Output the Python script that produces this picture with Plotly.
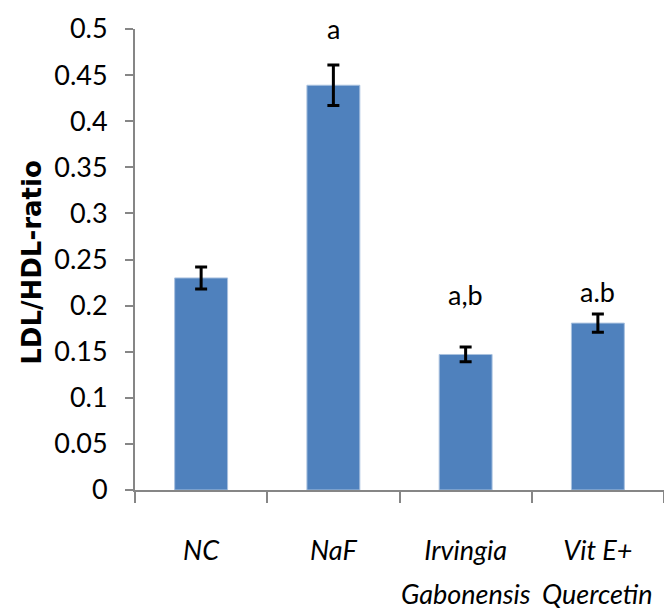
import plotly.graph_objects as go

categories = ["NC", "NaF", "Irvingia Gabonensis", "Vit E+ Quercetin"]
tick_line1 = ["NC", "NaF", "Irvingia", "Vit E+"]
tick_line2 = ["", "", "Gabonensis", "Quercetin"]
values = [0.230, 0.439, 0.147, 0.181]
errors = [0.012, 0.022, 0.008, 0.010]
sig_labels = ["", "a", "a,b", "a.b"]
label_shift = [0, 18, 34, 4]
y_title = "LDL/HDL-ratio"

FONT = "Lato, Carlito, Calibri, sans-serif"
FS = 27

fig = go.Figure()
fig.add_trace(go.Bar(
    x=categories, y=values,
    marker=dict(color="#4F81BD", line=dict(color="#A9C1DF", width=1)),
    error_y=dict(type="data", array=errors, visible=True,
                 color="black", thickness=3, width=6),
    width=0.4,
))

for c, v, e, lab, s in zip(categories, values, errors, sig_labels, label_shift):
    if lab:
        fig.add_annotation(x=c, y=v + e, text=lab, showarrow=False,
                           yanchor="bottom", yshift=s,
                           font=dict(family=FONT, size=FS, color="black"))

for c, t2 in zip(categories, tick_line2):
    if t2:
        fig.add_annotation(x=c, xref="x", y=0, yref="paper", text=t2, showarrow=False,
                           yanchor="middle", yshift=-103,
                           font=dict(family=FONT, size=FS, color="black", style="italic"))

# y-axis title (as rotated annotation to match its position)
fig.add_annotation(x=0, xref="paper", xshift=-103, xanchor="center",
                   y=0.493, yref="paper", yanchor="middle",
                   text="<b>" + y_title + "</b>", textangle=-90, showarrow=False,
                   font=dict(family="DejaVu Sans, sans-serif", size=26, color="black"))

fig.update_layout(
    width=664, height=615,
    margin=dict(l=135, r=0, t=29, b=125),
    plot_bgcolor="white", paper_bgcolor="white",
    showlegend=False,
    font=dict(family=FONT, color="black"),
)
fig.update_yaxes(
    range=[0, 0.5], dtick=0.05, tickformat="~g", automargin=False,
    showgrid=False, zeroline=False,
    showline=True, linecolor="#868686", linewidth=2,
    ticks="outside", ticklen=8, tickcolor="#868686", tickwidth=2,
    tickfont=dict(family=FONT, size=FS, color="black"),
    ticklabelstandoff=12,
)
fig.update_xaxes(
    showgrid=False, automargin=False, tickangle=0,
    tickmode="array", tickvals=categories, ticktext=tick_line1,
    showline=True, linecolor="#868686", linewidth=2,
    ticks="outside", tickson="boundaries", ticklen=11, tickcolor="#868686", tickwidth=2,
    tickfont=dict(family=FONT, size=FS, color="black", style="italic"),
    ticklabelstandoff=36,
)

fig.write_html("out.html")
